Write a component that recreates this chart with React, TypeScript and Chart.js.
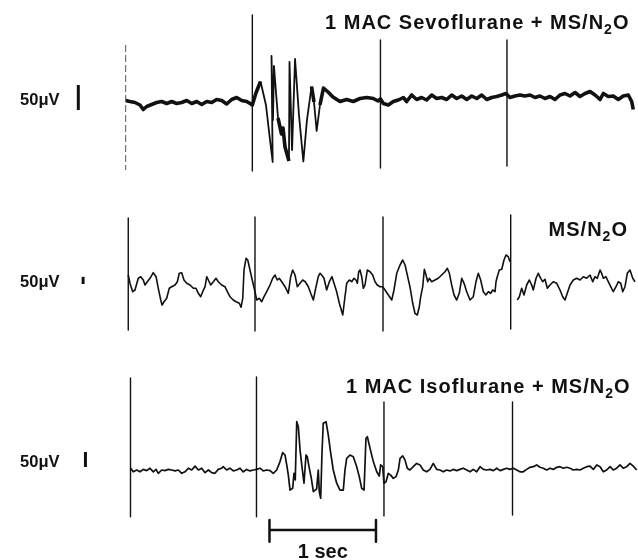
import React, { useEffect, useRef } from "react";
import { Chart, registerables } from "chart.js";

Chart.register(...registerables);

// ---------- Data (time in seconds from first marker, amplitude in µV) ----------
const TOP_T = [0.000,0.040,0.087,0.134,0.165,0.197,0.244,0.291,0.338,0.385,0.432,0.479,0.526,0.573,0.620,0.667,0.714,0.761,0.808,0.854,0.901,0.948,0.995,1.042,1.089,1.136,1.167,1.189,1.223,1.266,1.317,1.355,1.380,1.369,1.383,1.392,1.430,1.463,1.477,1.496,1.533,1.538,1.562,1.590,1.627,1.668,1.702,1.745,1.768,1.793,1.824,1.857,1.900,1.946,2.012,2.075,2.137,2.200,2.263,2.325,2.369,2.392,2.419,2.466,2.513,2.560,2.607,2.638,2.685,2.732,2.779,2.826,2.873,2.920,2.967,3.014,3.061,3.108,3.155,3.202,3.249,3.296,3.343,3.390,3.437,3.484,3.531,3.571,3.608,3.655,3.702,3.749,3.796,3.843,3.890,3.937,3.984,4.031,4.078,4.125,4.172,4.219,4.266,4.313,4.360,4.407,4.454,4.485,4.531,4.578,4.625,4.672,4.719,4.751,4.766];
const TOP_UV = [3,1,-1,-6,-15,-9,-5,-1,1,-3,1,-3,-1,3,-3,1,-5,1,-1,5,3,-4,5,9,3,1,-3,-6,18,41,-6,-76,-120,92,-36,72,-32,-64,-52,-90,-118,80,-96,86,-26,-119,-36,31,0,-58,-6,28,20,10,1,5,1,7,9,7,2,6,-3,-6,1,4,9,1,14,5,9,4,14,7,9,5,14,7,12,5,12,7,14,5,9,11,14,17,9,12,14,12,14,9,12,7,11,5,14,17,12,19,11,17,21,14,5,17,11,12,5,12,14,1,-15];

const MID_T = [0.024,0.040,0.066,0.087,0.118,0.141,0.165,0.181,0.203,0.228,0.259,0.285,0.306,0.329,0.341,0.360,0.385,0.409,0.432,0.463,0.485,0.503,0.526,0.547,0.573,0.604,0.635,0.660,0.682,0.704,0.723,0.745,0.761,0.776,0.798,0.823,0.848,0.869,0.901,0.932,0.954,0.979,1.010,1.036,1.067,1.083,1.099,1.111,1.130,1.146,1.167,1.192,1.214,1.230,1.254,1.277,1.299,1.324,1.355,1.380,1.402,1.423,1.442,1.465,1.496,1.527,1.549,1.568,1.590,1.611,1.637,1.662,1.686,1.715,1.737,1.762,1.787,1.808,1.824,1.840,1.862,1.887,1.912,1.937,1.956,1.981,2.006,2.038,2.059,2.075,2.100,2.122,2.144,2.162,2.175,2.188,2.200,2.216,2.231,2.247,2.269,2.294,2.319,2.341,2.362,2.388,2.413,2.435,2.466,2.498,2.519,2.545,2.576,2.601,2.623,2.644,2.669,2.695,2.716,2.738,2.757,2.770,2.789,2.804,2.820,2.836,2.851,2.873,2.904,2.935,2.967,2.998,3.020,3.039,3.061,3.083,3.108,3.132,3.155,3.177,3.202,3.233,3.264,3.289,3.311,3.333,3.358,3.383,3.405,3.427,3.446,3.468,3.477,3.489,3.508,3.531,3.552,3.571,3.592,3.608,3.640,3.677,3.696,3.718,3.740,3.765,3.790,3.812,3.827,3.853,3.874,3.897,3.915,3.937,3.959,3.984,4.015,4.047,4.078,4.103,4.125,4.146,4.172,4.203,4.235,4.266,4.297,4.329,4.360,4.385,4.407,4.428,4.454,4.469,4.485,4.510,4.531,4.554,4.578,4.604,4.625,4.648,4.667,4.688,4.710,4.735,4.761,4.782];
const MID_UV = [70,12,-47,-35,47,58,35,0,23,47,86,58,-23,-105,-140,-117,-93,-23,-12,0,23,82,86,35,12,0,-23,-23,-58,-82,-47,-12,58,35,0,23,47,23,0,-12,-47,-82,-105,-117,-128,-156,-93,105,187,175,105,23,-47,-105,-93,-117,-82,-47,0,47,70,35,47,23,-12,-58,58,105,70,-12,12,35,23,-12,-58,-105,-12,58,82,70,47,-35,23,58,12,-47,-128,-210,-82,12,35,23,47,35,12,93,105,58,-23,0,105,93,70,23,0,-12,-12,-35,-70,-105,-35,82,140,175,140,70,-12,-128,-198,-210,-152,-82,-12,110,70,23,47,23,35,47,70,93,117,82,0,-70,-105,-58,47,12,-47,-105,-82,23,82,35,-47,-70,-47,-58,-35,-47,23,58,105,110,175,210,198,163,null,-105,-82,-23,-70,0,35,0,-35,47,82,47,23,40,-23,0,23,12,-35,-82,-105,-58,0,35,47,35,58,47,70,23,58,47,105,82,47,58,23,-12,-47,-12,23,12,-47,-12,82,105,47,23];

const BOT_T = [0.047,0.071,0.103,0.134,0.165,0.197,0.228,0.259,0.285,0.306,0.338,0.369,0.400,0.432,0.463,0.494,0.526,0.557,0.588,0.620,0.651,0.682,0.714,0.745,0.776,0.808,0.838,0.869,0.901,0.916,0.948,0.979,1.010,1.042,1.073,1.104,1.136,1.167,1.198,1.230,1.261,1.292,1.324,1.355,1.386,1.418,1.449,1.474,1.496,1.512,1.527,1.543,1.568,1.580,1.592,1.606,1.621,1.637,1.653,1.674,1.693,1.705,1.724,1.743,1.762,1.793,1.808,1.818,1.831,1.843,1.855,1.881,1.902,1.925,1.949,1.981,2.012,2.043,2.059,2.075,2.106,2.137,2.169,2.193,2.216,2.238,2.256,2.269,2.294,2.325,2.357,2.381,2.394,2.413,2.425,2.444,2.466,2.488,2.513,2.538,2.560,2.576,2.601,2.623,2.644,2.669,2.700,2.732,2.763,2.794,2.826,2.857,2.888,2.920,2.951,2.982,3.014,3.045,3.076,3.108,3.139,3.170,3.202,3.233,3.264,3.296,3.327,3.358,3.390,3.421,3.452,3.484,3.515,3.546,3.577,3.608,3.639,3.671,3.702,3.733,3.765,3.796,3.827,3.859,3.890,3.921,3.953,3.984,4.015,4.047,4.078,4.109,4.141,4.172,4.203,4.235,4.266,4.297,4.329,4.360,4.391,4.423,4.454,4.485,4.516,4.548,4.578,4.610,4.641,4.672,4.704,4.735,4.766,4.798];
const BOT_UV = [6,-6,0,-6,2,-2,6,-6,2,-11,0,-2,2,0,-3,0,-11,-6,6,0,13,0,6,-9,0,-9,-11,2,6,11,0,6,-3,0,6,-6,2,-3,0,2,6,-3,0,-2,-11,0,28,58,50,17,-17,-67,-61,-11,-33,161,144,67,17,-44,50,44,6,-28,-72,-63,0,-73,-94,57,156,161,117,56,0,-44,-67,-67,0,39,50,44,11,-22,-61,-67,106,111,73,28,-6,-20,17,11,-44,-39,-11,-17,-28,-22,0,39,47,33,6,0,11,22,17,0,-6,2,22,2,0,-6,0,-3,2,-2,2,6,0,-6,2,-6,11,2,0,2,-2,6,-2,2,6,2,6,0,-6,-6,2,9,11,17,9,6,0,6,2,9,11,6,9,6,0,2,0,6,11,13,2,17,11,-6,0,11,0,6,17,6,11,22,13,0];

// Time-marker pulses per panel (time, upper and lower extent in the panel's µV)
const TOP_MARK_T = [0.000, 1.189, 2.392, 3.580];
const TOP_MARK_HI = [114, 174, 124, 124];
const TOP_MARK_LO = [-136, -138, -132, -128];
const MID_MARK_T = [0.024, 1.214, 2.416, 3.615];
const MID_MARK_HI = [469, 476, 476, 490];
const MID_MARK_LO = [-315, -322, -322, -308];
const BOT_MARK_T = [0.045, 1.228, 2.425, 3.632];
const BOT_MARK_HI = [307, 310, 227, 227];
const BOT_MARK_LO = [-156, -156, -153, -150];

// 50 µV calibration bars (time, base level) for top / middle / bottom
const CAL_T = [-0.445, -0.40, -0.378];
const CAL_BASE = [-16, 7, 10];
const CAL_UV = 50;

// 1 second time bar (drawn on bottom panel's scale)
const SEC_START = 1.35;
const SEC_LEN = 1;
const SEC_LEVEL = -200;
const SEC_TICK = [-167, -239];

const TITLES = ["1 MAC Sevoflurane + MS/N", "MS/N", "1 MAC Isoflurane + MS/N"];
const CAL_LABEL = "50\u03bcV";
const SEC_LABEL = "1 sec";

const FONT = '"Liberation Sans", Arial, Helvetica, sans-serif';
const INK = "#111111";

const zip = (t: number[], v: (number | null)[]) =>
  t.map((x, i) => ({ x, y: v[i] === undefined ? null : v[i] }));

const textPlugin = {
  id: "eegText",
  afterDatasetsDraw(chart: any) {
    const { ctx, scales } = chart;
    const x = scales.x;
    const yAxes = [scales.yTop, scales.yMid, scales.yBot];
    ctx.save();
    ctx.fillStyle = INK;
    ctx.textBaseline = "alphabetic";

    const drawChem = (lead: string, xRight: number, yBase: number, size: number) => {
      const parts = [
        { text: lead, sub: false },
        { text: "2", sub: true },
        { text: "O", sub: false },
      ];
      (ctx as any).letterSpacing = "1px";
      const widths = parts.map((p) => {
        ctx.font = `bold ${p.sub ? Math.round(size * 0.7) : size}px ${FONT}`;
        return ctx.measureText(p.text).width;
      });
      const total = widths.reduce((a, b) => a + b, 0);
      let cx = xRight - total;
      parts.forEach((p, i) => {
        ctx.font = `bold ${p.sub ? Math.round(size * 0.7) : size}px ${FONT}`;
        ctx.fillText(p.text, cx, yBase + (p.sub ? size * 0.25 : 0));
        cx += widths[i];
      });
      (ctx as any).letterSpacing = "0px";
    };

    // panel titles (right aligned)
    drawChem(TITLES[0], x.getPixelForValue(4.73), yAxes[0].getPixelForValue(146), 20);
    drawChem(TITLES[1], x.getPixelForValue(4.716), yAxes[1].getPixelForValue(343), 20);
    drawChem(TITLES[2], x.getPixelForValue(4.74), yAxes[2].getPixelForValue(257), 20);

    // calibration labels
    ctx.font = `bold 16.5px ${FONT}`;
    ctx.textAlign = "left";
    const calY = [-6, -14, 10];
    yAxes.forEach((ax: any, i: number) => {
      ctx.fillText(CAL_LABEL, x.getPixelForValue(-0.992), ax.getPixelForValue(calY[i]));
    });

    // 1 sec label
    ctx.font = `bold 20px ${FONT}`;
    ctx.textAlign = "center";
    ctx.fillText(SEC_LABEL, x.getPixelForValue(SEC_START + SEC_LEN / 2), yAxes[2].getPixelForValue(-293));
    ctx.restore();
  },
};

export default function App() {
  const ref = useRef<HTMLCanvasElement>(null);

  useEffect(() => {
    const canvas = ref.current;
    if (!canvas) return;

    const seg = (data: any[], yAxisID: string, width: number, extra: any = {}) => ({
      type: "line",
      data,
      yAxisID,
      borderColor: INK,
      borderWidth: width,
      pointRadius: 0,
      pointHoverRadius: 0,
      fill: false,
      tension: 0,
      spanGaps: false,
      borderCapStyle: "butt",
      borderJoinStyle: "round",
      ...extra,
    });

    const datasets: any[] = [];
    const markers = [
      { t: TOP_MARK_T, hi: TOP_MARK_HI, lo: TOP_MARK_LO, ax: "yTop" },
      { t: MID_MARK_T, hi: MID_MARK_HI, lo: MID_MARK_LO, ax: "yMid" },
      { t: BOT_MARK_T, hi: BOT_MARK_HI, lo: BOT_MARK_LO, ax: "yBot" },
    ];
    markers.forEach((m, pi) => {
      m.t.forEach((t, i) => {
        const faint = pi === 0 && i === 0;
        datasets.push(
          seg(
            [
              { x: t, y: m.hi[i] },
              { x: t, y: m.lo[i] },
            ],
            m.ax,
            faint ? 1 : 1.4,
            faint ? { borderColor: "#555", borderDash: [7, 3] } : {}
          )
        );
      });
    });

    const calAxes = ["yTop", "yMid", "yBot"];
    calAxes.forEach((ax, i) => {
      datasets.push(
        seg(
          [
            { x: CAL_T[i], y: CAL_BASE[i] },
            { x: CAL_T[i], y: CAL_BASE[i] + CAL_UV },
          ],
          ax,
          3
        )
      );
    });

    // 1 sec bar
    datasets.push(
      seg(
        [
          { x: SEC_START, y: SEC_LEVEL },
          { x: SEC_START + SEC_LEN, y: SEC_LEVEL },
        ],
        "yBot",
        2.5
      )
    );
    [SEC_START, SEC_START + SEC_LEN].forEach((t) =>
      datasets.push(
        seg(
          [
            { x: t, y: SEC_TICK[0] },
            { x: t, y: SEC_TICK[1] },
          ],
          "yBot",
          2.5
        )
      )
    );

    // EEG traces
    datasets.push(
      seg(zip(TOP_T, TOP_UV), "yTop", 3.6, {
        segment: {
          borderWidth: (c: any) =>
            Math.abs(c.p1.parsed.y - c.p0.parsed.y) > 40 ? 1.8 : 3.6,
        },
      })
    );
    datasets.push(seg(zip(MID_T, MID_UV), "yMid", 1.6));
    datasets.push(seg(zip(BOT_T, BOT_UV), "yBot", 1.7));

    const chart = new Chart(canvas, {
      type: "line",
      data: { datasets },
      options: {
        responsive: false,
        maintainAspectRatio: false,
        animation: false,
        events: [],
        parsing: true,
        layout: { padding: 0 },
        plugins: { legend: { display: false }, tooltip: { enabled: false }, title: { display: false } },
        scales: {
          x: { type: "linear", display: false, min: -1.1803, max: 4.8103 },
          yTop: { type: "linear", display: false, min: -916, max: 204 },
          yMid: { type: "linear", display: false, min: -1925, max: 1995 },
          yBot: { type: "linear", display: false, min: -300, max: 1566.7 },
        },
      } as any,
      plugins: [textPlugin],
    } as any);

    return () => chart.destroy();
  }, []);

  return (
    <div
      style={{
        position: "absolute",
        left: 0,
        top: 0,
        width: 638,
        height: 560,
        background: "#ffffff",
      }}
    >
      <canvas ref={ref} width={638} height={560} style={{ display: "block" }} />
    </div>
  );
}
